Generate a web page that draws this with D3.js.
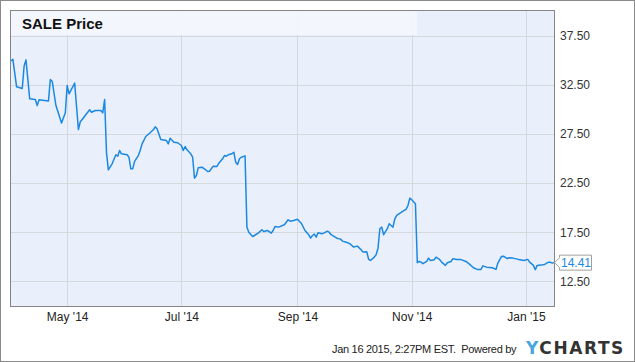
<!DOCTYPE html>
<html>
<head>
<meta charset="utf-8">
<script src="https://cdn.jsdelivr.net/npm/d3@7"></script>
<style>
  html, body { margin: 0; padding: 0; background: #fff; }
  svg { display: block; font-family: "Liberation Sans", Arial, sans-serif; }
</style>
</head>
<body>
<svg id="chart" width="635" height="362"></svg>
<script>
// SALE closing prices
var dates = [
  "2014-04-01","2014-04-02","2014-04-04","2014-04-07","2014-04-08","2014-04-09","2014-04-11","2014-04-14","2014-04-15","2014-04-16",
  "2014-04-21","2014-04-22","2014-04-23","2014-04-25","2014-04-28","2014-04-30","2014-05-01","2014-05-02","2014-05-05","2014-05-07",
  "2014-05-08","2014-05-09","2014-05-13","2014-05-14","2014-05-16","2014-05-19","2014-05-20","2014-05-21","2014-05-22","2014-05-23",
  "2014-05-25","2014-05-27","2014-05-28","2014-05-29","2014-05-30","2014-06-02","2014-06-03","2014-06-04","2014-06-05","2014-06-06",
  "2014-06-08","2014-06-09","2014-06-10","2014-06-12","2014-06-14","2014-06-16","2014-06-17","2014-06-18","2014-06-20","2014-06-23",
  "2014-06-24","2014-06-25","2014-06-27","2014-06-29","2014-07-01","2014-07-02","2014-07-03","2014-07-04","2014-07-06","2014-07-07",
  "2014-07-08","2014-07-09","2014-07-10","2014-07-12","2014-07-14","2014-07-15","2014-07-16","2014-07-18","2014-07-20","2014-07-21",
  "2014-07-23","2014-07-24","2014-07-25","2014-07-26","2014-07-28","2014-07-29","2014-07-30","2014-07-31","2014-08-01","2014-08-02",
  "2014-08-04","2014-08-05","2014-08-06","2014-08-08","2014-08-09","2014-08-11","2014-08-13","2014-08-14","2014-08-16","2014-08-18",
  "2014-08-19","2014-08-20","2014-08-22","2014-08-25","2014-08-27","2014-08-28","2014-08-30","2014-09-01","2014-09-03","2014-09-05",
  "2014-09-07","2014-09-08","2014-09-09","2014-09-10","2014-09-11","2014-09-12","2014-09-14","2014-09-15","2014-09-17","2014-09-18",
  "2014-09-19","2014-09-22","2014-09-24","2014-09-25","2014-09-27","2014-09-29","2014-10-01","2014-10-03","2014-10-05","2014-10-06",
  "2014-10-08","2014-10-09","2014-10-10","2014-10-12","2014-10-13","2014-10-14","2014-10-15","2014-10-16","2014-10-17","2014-10-19",
  "2014-10-20","2014-10-21","2014-10-22","2014-10-23","2014-10-24","2014-10-26","2014-10-28","2014-10-29","2014-10-30","2014-10-31",
  "2014-11-01","2014-11-03","2014-11-04","2014-11-05","2014-11-06","2014-11-07","2014-11-09","2014-11-10","2014-11-11","2014-11-13",
  "2014-11-14","2014-11-16","2014-11-17","2014-11-19","2014-11-20","2014-11-22","2014-11-23","2014-11-25","2014-11-27","2014-11-30",
  "2014-12-02","2014-12-04","2014-12-06","2014-12-08","2014-12-09","2014-12-11","2014-12-14","2014-12-16","2014-12-17","2014-12-19",
  "2014-12-20","2014-12-22","2014-12-23","2014-12-25","2014-12-28","2014-12-31","2015-01-02","2015-01-03","2015-01-05","2015-01-06",
  "2015-01-07","2015-01-10","2015-01-11","2015-01-13","2015-01-14","2015-01-15","2015-01-16"
];
var prices = [
  34.91,35.09,32.29,32.11,34.40,35.03,31.07,31.00,30.39,30.97,
  30.84,33.03,32.86,30.39,28.61,29.65,32.42,31.58,32.67,27.95,
  28.73,28.96,29.95,29.70,29.88,29.88,29.64,31.00,25.60,23.85,
  24.46,25.38,25.23,25.81,25.48,25.38,25.13,23.95,23.95,24.70,
  25.30,25.81,26.49,27.24,27.57,27.92,28.22,28.02,26.93,26.83,
  26.49,27.06,26.66,26.60,26.32,25.81,26.22,25.88,25.48,25.13,
  23.00,23.27,24.05,24.12,23.85,23.68,23.71,24.22,24.19,24.52,
  24.97,25.30,25.23,25.38,25.48,25.64,24.62,24.39,24.97,25.13,
  25.27,18.00,17.51,17.07,17.17,17.41,17.75,17.58,17.68,17.41,
  17.68,18.09,18.02,18.26,18.77,18.63,18.70,18.83,18.42,17.68,
  17.25,16.90,17.17,17.31,17.00,17.45,17.35,17.41,17.61,17.48,
  17.25,16.90,16.80,16.60,16.49,16.33,15.99,16.09,15.72,15.48,
  15.52,14.74,14.63,14.97,15.21,15.88,17.86,18.02,17.25,17.86,
  18.36,18.19,18.02,18.87,19.21,19.48,19.72,19.82,20.22,20.97,
  20.80,20.40,14.40,14.53,14.46,14.30,14.53,14.87,14.63,14.71,
  14.97,14.71,14.46,14.13,14.40,14.53,14.81,14.74,14.74,14.53,
  14.23,13.89,13.72,13.72,14.08,13.95,13.89,13.72,14.36,15.04,
  15.07,14.81,14.91,14.87,14.74,14.63,14.74,14.46,14.13,13.69,
  14.13,14.20,14.23,14.46,14.46,14.36,14.41
];
var yTicks = [12.5, 17.5, 22.5, 27.5, 32.5, 37.5];
var xTickDates = ["2014-05-01", "2014-07-01", "2014-09-01", "2014-11-01", "2015-01-01"];
var xTickLabels = ["May '14", "Jul '14", "Sep '14", "Nov '14", "Jan '15"];
var title = "SALE Price";
var lastLabel = "14.41";
var footer = "Jan 16 2015, 2:27PM EST.\u00a0 Powered by";

var parse = d3.timeParse("%Y-%m-%d");
var data = dates.map(function(d, i) { return {date: parse(d), val: prices[i]}; });

var W = 635, H = 362;
var plot = {left: 11, top: 11, right: 554, bottom: 306};
var svg = d3.select('#chart');

var xscale = d3.scaleTime()
  .domain([parse("2014-04-01"), parse("2015-01-16")])
  .range([plot.left, plot.right]);

var yscale = d3.scaleLinear()
  .domain([10, 40])
  .range([plot.bottom, plot.top]);

// outer frame
svg.append('rect')
  .attr('x', 0.5).attr('y', 0.5)
  .attr('width', W - 1).attr('height', H - 1)
  .attr('fill', '#fff').attr('stroke', '#8a8a8a');

// plot background
svg.append('rect')
  .attr('x', plot.left).attr('y', plot.top)
  .attr('width', plot.right - plot.left).attr('height', plot.bottom - plot.top)
  .attr('fill', '#e9f0fb');

// gridlines
var grid = svg.append('g').attr('stroke', '#d5d8dd').attr('stroke-width', 1);
yTicks.forEach(function(t) {
  var y = Math.round(yscale(t)) + 0.5;
  grid.append('line').attr('x1', plot.left).attr('x2', plot.right).attr('y1', y).attr('y2', y);
});
xTickDates.forEach(function(t) {
  var x = Math.round(xscale(parse(t))) + 0.5;
  grid.append('line').attr('x1', x).attr('x2', x).attr('y1', plot.top).attr('y2', plot.bottom);
});

// title legend band
svg.append('rect')
  .attr('x', plot.left).attr('y', plot.top)
  .attr('width', 406).attr('height', 24)
  .attr('fill', '#f4f7fd').attr('fill-opacity', 0.9);

svg.append('text')
  .attr('x', 22).attr('y', 29)
  .attr('font-size', 15).attr('font-weight', 'bold').attr('fill', '#111')
  .text(title);

// price line
var line = d3.line()
  .x(function(d) { return xscale(d.date); })
  .y(function(d) { return yscale(d.val); });

svg.append('path')
  .datum(data)
  .attr('fill', 'none')
  .attr('stroke', '#1b88e3')
  .attr('stroke-width', 1.5)
  .attr('stroke-linejoin', 'round')
  .attr('d', line);

// plot frame
svg.append('rect')
  .attr('x', plot.left - 0.5).attr('y', plot.top - 0.5)
  .attr('width', plot.right - plot.left + 1).attr('height', plot.bottom - plot.top + 1)
  .attr('fill', 'none').attr('stroke', '#858585');

// y axis labels (right)
var yaxis = d3.axisRight(yscale)
  .tickValues(yTicks)
  .tickSize(0)
  .tickPadding(6)
  .tickFormat(d3.format('.2f'));

svg.append('g')
  .attr('class', 'yaxis')
  .attr('transform', 'translate(' + (plot.right) + ',0)')
  .call(yaxis)
  .call(function(g) { g.select('.domain').remove(); })
  .selectAll('text')
  .attr('font-size', 12).attr('fill', '#333').attr('font-family', '"Liberation Sans", Arial, sans-serif');

// x axis labels
var xaxis = d3.axisBottom(xscale)
  .tickValues(xTickDates.map(parse))
  .tickSize(0)
  .tickPadding(6)
  .tickFormat(function(d, i) { return xTickLabels[i]; });

svg.append('g')
  .attr('class', 'xaxis')
  .attr('transform', 'translate(0,' + plot.bottom + ')')
  .call(xaxis)
  .call(function(g) { g.select('.domain').remove(); })
  .selectAll('text')
  .attr('font-size', 12).attr('fill', '#222').attr('font-family', '"Liberation Sans", Arial, sans-serif');

// last value flag
var last = data[data.length - 1];
var ly = yscale(last.val);
var lx = plot.right;
svg.append('path')
  .attr('d', 'M' + (lx + 0.5) + ',' + ly +
    'L' + (lx + 5.5) + ',' + (ly - 5) +
    'L' + (lx + 5.5) + ',' + (ly - 7.5) +
    'L' + (lx + 37.5) + ',' + (ly - 7.5) +
    'L' + (lx + 37.5) + ',' + (ly + 7.5) +
    'L' + (lx + 5.5) + ',' + (ly + 7.5) +
    'L' + (lx + 5.5) + ',' + (ly + 5) + 'Z')
  .attr('fill', '#fff').attr('stroke', '#a0a0a0');
svg.append('text')
  .attr('x', lx + 7).attr('y', ly + 4.5)
  .attr('font-size', 12).attr('fill', '#1b88e3')
  .text(lastLabel);

// footer
svg.append('text')
  .attr('x', 332).attr('y', 353)
  .attr('font-size', 11).attr('letter-spacing', -0.3).attr('fill', '#222')
  .text(footer);

var logo = svg.append('text')
  .attr('x', 526).attr('y', 354)
  .attr('font-size', 17).attr('font-weight', 'bold')
  .attr('letter-spacing', 1.6)
  .attr('font-family', '"DejaVu Sans", "Liberation Sans", sans-serif');
logo.append('tspan').attr('fill', '#4aa6e2').text('Y');
logo.append('tspan').attr('fill', '#333').text('CHARTS');
</script>
</body>
</html>
